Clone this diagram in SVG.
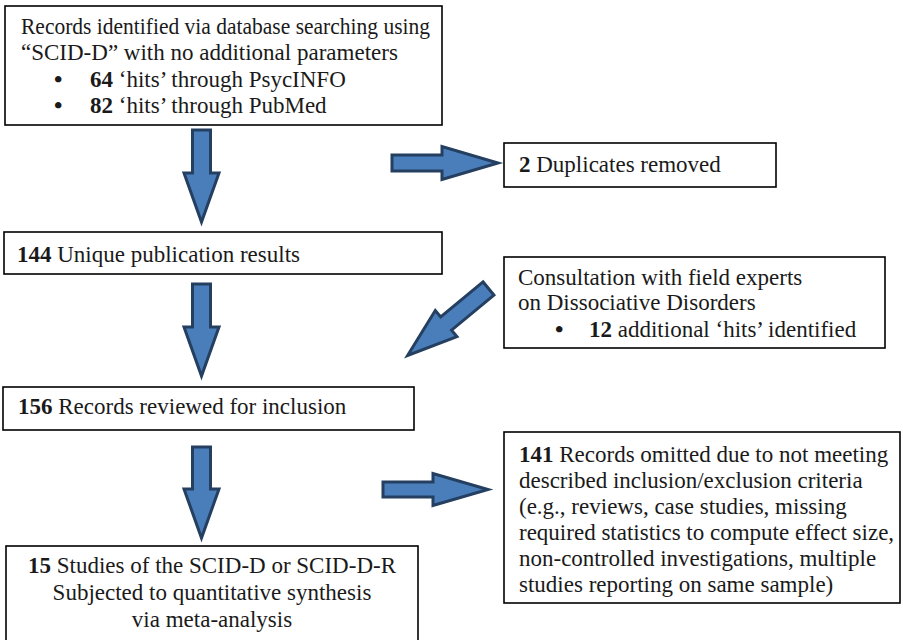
<svg xmlns="http://www.w3.org/2000/svg" width="903" height="640" viewBox="0 0 903 640">
<style>
.box{fill:#fff;stroke:#000;stroke-width:1.6}
.t{font-family:"Liberation Serif","Times New Roman",serif;font-size:23px;fill:#1a1a1a}
.b{font-weight:bold}
.bul{font-family:"Liberation Serif","Times New Roman",serif;font-size:24px;font-weight:bold;fill:#1a1a1a}
.arr{fill:#4a7ebb;stroke:#243f60;stroke-width:3;stroke-linejoin:miter}
</style>
<rect width="903" height="640" fill="#fff"/>
<g id="connectors">
<polygon class="arr" points="192.5,130 210.5,130 210.5,173 219,173 201.5,222 184,173 192.5,173"/>
<polygon class="arr" points="192.5,284 210.5,284 210.5,327 219,327 201.5,376 184,327 192.5,327"/>
<polygon class="arr" points="192.5,447 210.5,447 210.5,489 219,489 201.5,538 184,489 192.5,489"/>
<polygon class="arr" points="392,155 442,155 442,146.5 498,163 442,179.5 442,171 392,171"/>
<polygon class="arr" points="383,482 433,482 433,473.5 488,489.5 433,505.5 433,497 383,497"/>
<polygon class="arr" transform="translate(488.5,288.5) rotate(140.4)" points="0,-8.5 55,-8.5 55,-17 105,0 55,17 55,8.5 0,8.5"/>
</g>
<g id="n1">
<rect class="box" x="5" y="6" width="437" height="119"/>
<text class="t" x="21" y="34" textLength="409" lengthAdjust="spacingAndGlyphs">Records identified via database searching using</text>
<text class="t" x="21" y="60">“SCID-D” with no additional parameters</text>
<text class="bul" x="54" y="87">•</text><text class="t" x="90" y="87"><tspan class="b">64</tspan> ‘hits’ through PsycINFO</text>
<text class="bul" x="54" y="113">•</text><text class="t" x="90" y="113"><tspan class="b">82</tspan> ‘hits’ through PubMed</text>
</g>
<g id="n2">
<rect class="box" x="504" y="143" width="272" height="44"/>
<text class="t" x="519" y="172"><tspan class="b">2</tspan> Duplicates removed</text>
</g>
<g id="n3">
<rect class="box" x="4" y="232" width="438" height="42"/>
<text class="t" x="17" y="262"><tspan class="b">144</tspan> Unique publication results</text>
</g>
<g id="n4">
<rect class="box" x="504" y="257" width="381" height="91"/>
<text class="t" x="518" y="285">Consultation with field experts</text>
<text class="t" x="518" y="310">on Dissociative Disorders</text>
<text class="bul" x="555" y="337">•</text><text class="t" x="589" y="337"><tspan class="b">12</tspan> additional ‘hits’ identified</text>
</g>
<g id="n5">
<rect class="box" x="3" y="387" width="411" height="43"/>
<text class="t" x="18" y="414"><tspan class="b">156</tspan> Records reviewed for inclusion</text>
</g>
<g id="n6">
<rect class="box" x="6" y="546" width="412" height="96"/>
<text class="t" x="212" y="573" text-anchor="middle"><tspan class="b">15</tspan> Studies of the SCID-D or SCID-D-R</text>
<text class="t" x="212" y="600" text-anchor="middle">Subjected to quantitative synthesis</text>
<text class="t" x="212" y="627" text-anchor="middle">via meta-analysis</text>
</g>
<g id="n7">
<rect class="box" x="504" y="432" width="396" height="171"/>
<text class="t" x="519" y="462"><tspan class="b">141</tspan> Records omitted due to not meeting</text>
<text class="t" x="519" y="488">described inclusion/exclusion criteria</text>
<text class="t" x="519" y="514">(e.g., reviews, case studies, missing</text>
<text class="t" x="519" y="540">required statistics to compute effect size,</text>
<text class="t" x="519" y="566">non-controlled investigations, multiple</text>
<text class="t" x="519" y="592">studies reporting on same sample)</text>
</g>
</svg>
